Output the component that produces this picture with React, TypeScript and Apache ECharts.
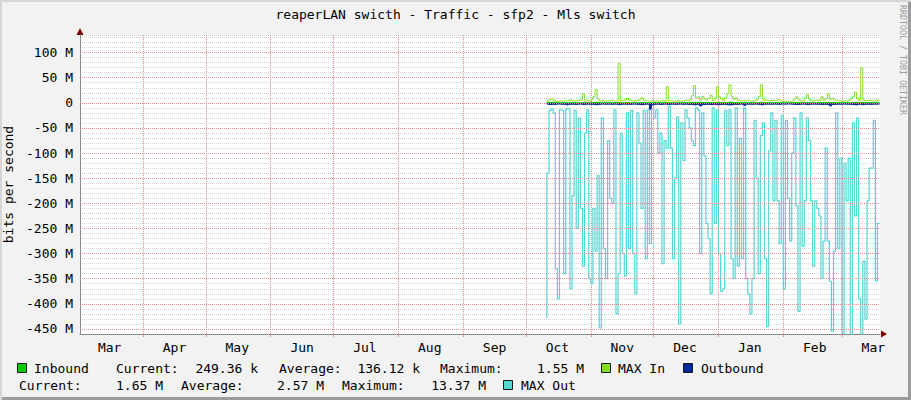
import React, { useEffect, useRef } from 'react';
import * as echarts from 'echarts';

const TITLE = 'reaperLAN swicth - Traffic - sfp2 - Mls switch';
const Y_AXIS_NAME = 'bits per second';
const WATERMARK = 'RRDTOOL / TOBI OETIKER';
const MONTH_NAMES = ['Jan', 'Feb', 'Mar', 'Apr', 'May', 'Jun', 'Jul', 'Aug', 'Sep', 'Oct', 'Nov', 'Dec'];
const MONTH_START_DATES = ['2014-04-01', '2014-05-01', '2014-06-01', '2014-07-01', '2014-08-01', '2014-09-01', '2014-10-01', '2014-11-01', '2014-12-01', '2015-01-01', '2015-02-01', '2015-03-01'];
const MONTH_LABEL_DATES = ['2014-03-16', '2014-04-16', '2014-05-16', '2014-06-16', '2014-07-16', '2014-08-16', '2014-09-16', '2014-10-16', '2014-11-16', '2014-12-16', '2015-01-16', '2015-02-16', '2015-03-16'];
const X_START = '2014-03-01T20:00:00Z';
const X_END = '2015-03-19T05:00:00Z';
const DATA_START = '2014-10-11T00:00:00Z';
const Y_TICKS = [100, 50, 0, -50, -100, -150, -200, -250, -300, -350, -400, -450];
const Y_MIN = -460;
const Y_MAX = 135;

const SERIES_NAMES = ['Inbound', 'MAX In', 'Outbound', 'MAX Out'];
const STAT_LABELS = ['Current:', 'Average:', 'Maximum:'];
const INBOUND_STATS = ['249.36 k', '136.12 k', '1.55 M'];
const OUTBOUND_STATS = ['1.65 M', '2.57 M', '13.37 M'];

// values in M bits per second, one per day
const inbound = [
  0.3, 0.5, 0.8, 1.2, 0.6, 0.2, 0.1, 0.3, 0.2, 0.4,
  0.5, 0.3, 0.6, 0.3, 0.2, 0.4, 0.3, 0.5, 1.5, 0.4,
  0.3, 0.2, 0.5, 0.9, 1.4, 0.6, 0.3, 0.4, 0.2, 0.3,
  0.2, 0.4, 0.3, 0.2, 0.3, 1.5, 0.4, 0.3, 0.5, 0.7,
  0.4, 0.3, 0.2, 0.4, 0.3, 0.5, 0.8, 0.4, 0.3, 0.2,
  0.3, 0.4, 0.2, 0.3, 0.2, 0.3, 0.4, 0.2, 1.3, 0.4,
  0.3, 0.2, 0.3, 0.4, 0.2, 0.3, 0.2, 0.4, 0.3, 0.5,
  0.9, 1.4, 0.7, 0.8, 0.5, 0.9, 0.6, 0.5, 0.7, 1.0,
  0.4, 0.6, 1.3, 0.8, 0.6, 0.4, 0.7, 1.1, 1.5, 0.9,
  0.5, 0.7, 0.4, 0.3, 0.3, 0.2, 0.4, 0.3, 0.2, 0.3,
  0.3, 0.5, 0.8, 1.4, 0.6, 0.4, 0.3, 0.2, 0.4, 0.3,
  0.3, 0.5, 0.4, 0.2, 0.3, 0.2, 0.1, 0.2, 0.3, 0.6,
  0.8, 0.5, 0.3, 0.2, 0.7, 1.1, 0.5, 0.3, 0.2, 0.4,
  0.3, 0.5, 0.9, 0.4, 0.6, 1.2, 0.5, 0.7, 0.5, 0.4,
  0.3, 0.3, 0.2, 0.3, 0.2, 0.4, 0.6, 0.9, 1.3, 0.6,
  0.4, 1.5, 0.5, 0.3, 0.4, 0.5, 0.3, 0.3, 0.2, 0.25,
];

const maxIn = [
  2, 4, 6, 8, 5, 3, 3, 4, 3, 4,
  5, 4, 6, 4, 3, 5, 4, 6, 18, 6,
  4, 3, 6, 12, 26, 8, 4, 5, 3, 4,
  3, 5, 4, 3, 4, 78, 5, 4, 6, 9,
  5, 4, 3, 5, 4, 7, 10, 5, 4, 3,
  4, 5, 3, 4, 3, 4, 5, 3, 32, 5,
  4, 3, 4, 5, 3, 4, 3, 5, 4, 6,
  14, 34, 10, 12, 6, 13, 8, 6, 9, 15,
  5, 8, 32, 12, 8, 5, 10, 18, 36, 13,
  7, 10, 5, 4, 4, 3, 5, 4, 3, 4,
  4, 6, 12, 36, 8, 5, 4, 3, 5, 4,
  4, 6, 5, 3, 4, 3, 2, 3, 4, 8,
  12, 6, 4, 3, 9, 16, 7, 4, 3, 5,
  4, 6, 12, 5, 8, 18, 7, 9, 6, 5,
  4, 4, 3, 4, 3, 5, 8, 12, 21, 8,
  5, 70, 6, 4, 5, 6, 4, 4, 3, 6,
];

const outbound = [
  -2.5, -3, -3.5, -2.8, -3.2, -2.6, -2.4, -3, -2.7, -3.1,
  -4.5, -3, -2.8, -2.6, -3.3, -2.9, -2.5, -3, -3.4, -2.8,
  -2.6, -3, -2.7, -3.5, -4, -3.1, -2.7, -2.5, -3, -2.8,
  -2.6, -3, -2.9, -2.5, -3.2, -3.6, -2.8, -2.6, -3, -2.7,
  -3.1, -2.7, -2.5, -2.9, -3, -3.4, -3.8, -2.9, -2.6, -3,
  -13, -4, -2.8, -2.6, -3, -3.2, -2.7, -2.5, -3.4, -2.8,
  -2.6, -2.9, -3.1, -2.7, -2.5, -3, -2.8, -2.6, -3.2, -3,
  -3.6, -4.2, -3.1, -3.4, -6, -3.5, -3, -2.8, -3.3, -3.7,
  -2.9, -3.2, -4, -3.5, -3.1, -2.8, -3.6, -3.9, -4.3, -3.4,
  -3, -3.2, -2.7, -2.6, -3, -5, -2.8, -2.6, -2.9, -2.7,
  -2.5, -2.8, -3.3, -4.1, -3, -2.7, -2.6, -2.9, -2.7, -2.5,
  -2.6, -3, -2.8, -2.4, -2.7, -2.5, -2.3, -2.6, -2.8, -3.2,
  -3.4, -2.9, -2.6, -2.5, -3.1, -3.6, -3, -2.7, -2.6, -2.9,
  -2.7, -3, -3.5, -2.8, -3.2, -3.8, -6, -3.3, -3, -2.9,
  -2.6, -2.8, -2.5, -2.7, -2.6, -3, -3.3, -3.6, -4.2, -3.1,
  -2.8, -3.9, -3, -2.7, -2.9, -3.1, -2.8, -2.7, -2.6, -2.5,
];

const maxOut = [
  -428, -140, -15, -12, -20, -330, -390, -14, -15, -340,
  -12, -12, -370, -185, -15, -250, -30, -210, -325, -60,
  -14, -350, -360, -210, -295, -145, -448, -30, -290, -350,
  -75, -190, -200, -14, -420, -340, -60, -300, -345, -20,
  -290, -15, -300, -380, -20, -80, -210, -15, -310, -14,
  -280, -12, -30, -14, -100, -60, -320, -75, -90, -7,
  -90, -310, -150, -28, -440, -40, -115, -14, -30, -50,
  -75, -85, -10, -14, -300, -20, -105, -240, -270, -380,
  -10, -240, -15, -300, -375, -370, -15, -85, -14, -310,
  -350, -10, -325, -70, -310, -10, -350, -380, -420, -350,
  -35, -150, -340, -65, -40, -310, -445, -95, -20, -195,
  -35, -195, -280, -25, -370, -35, -190, -275, -100, -30,
  -205, -415, -20, -285, -195, -30, -75, -195, -325, -195,
  -210, -225, -350, -275, -90, -275, -355, -455, -295, -20,
  -290, -110, -460, -120, -195, -110, -465, -40, -225, -30,
  -390, -460, -315, -430, -195, -130, -130, -35, -355, -240,
];

const COLORS = ['#00CC00', '#84DF1E', '#002A97', '#55D6D3'];
const FONT = 'DejaVu Sans Mono';
const DAY = 86400000;

function toSeries(values: number[]) {
  const start = Date.parse(DATA_START);
  return values.map((v, i) => [start + i * DAY, v]);
}

function buildOption() {
  const monthStarts = MONTH_START_DATES.map((d) => Date.parse(d));
  const monthLabels = MONTH_LABEL_DATES.map((d) => Date.parse(d));

  const text = (t: string, x: number, y: number, align: string, extra: any = {}) => ({
    type: 'text',
    x,
    y,
    silent: true,
    style: {
      text: t,
      font: `13px "${FONT}"`,
      fill: '#000',
      align,
      verticalAlign: 'middle',
      textAlign: align,
      textVerticalAlign: 'middle',
      ...extra,
    },
  });
  const box = (x: number, y: number, color: string) => ({
    type: 'rect',
    silent: true,
    shape: { x: x + 0.5, y: y + 0.5, width: 9, height: 9 },
    style: { fill: color, stroke: '#1a1a1a', lineWidth: 1 },
  });

  const row1 = 368;
  const row2 = 385;
  const graphic: any[] = [
    text(TITLE, 455.5, 14, 'center'),
    {
      type: 'text',
      x: 903,
      y: 5,
      rotation: -Math.PI / 2,
      silent: true,
      style: {
        text: WATERMARK,
        font: `8.3px "${FONT}"`,
        fill: '#9c9c9c',
        align: 'left',
        verticalAlign: 'middle',
        textAlign: 'left',
        textVerticalAlign: 'middle',
      },
    },
    { type: 'polygon', silent: true, shape: { points: [[76.5, 35], [83.5, 35], [80, 28]] }, style: { fill: '#7F0000' } },
    { type: 'polygon', silent: true, shape: { points: [[881, 330.5], [881, 337.5], [887, 334]] }, style: { fill: '#7F0000' } },
    box(17, 363, COLORS[0]),
    text(SERIES_NAMES[0], 34, row1, 'left'),
    text(STAT_LABELS[0], 116, row1, 'left'),
    text(INBOUND_STATS[0], 258, row1, 'right'),
    text(STAT_LABELS[1], 279, row1, 'left'),
    text(INBOUND_STATS[1], 420, row1, 'right'),
    text(STAT_LABELS[2], 440, row1, 'left'),
    text(INBOUND_STATS[2], 584, row1, 'right'),
    box(601, 363, COLORS[1]),
    text(SERIES_NAMES[1], 618, row1, 'left'),
    box(683, 363, COLORS[2]),
    text(SERIES_NAMES[2], 701, row1, 'left'),
    text(STAT_LABELS[0], 19, row2, 'left'),
    text(OUTBOUND_STATS[0], 163, row2, 'right'),
    text(STAT_LABELS[1], 181, row2, 'left'),
    text(OUTBOUND_STATS[1], 324, row2, 'right'),
    text(STAT_LABELS[2], 342, row2, 'left'),
    text(OUTBOUND_STATS[2], 486, row2, 'right'),
    box(503, 380, COLORS[3]),
    text(SERIES_NAMES[3], 521, row2, 'left'),
  ];

  const majorGrid = { color: '#e68a8a', type: [1, 1], width: 1 };

  return {
    animation: false,
    backgroundColor: 'transparent',
    textStyle: { fontFamily: FONT },
    grid: {
      left: 80,
      right: 31,
      top: 35,
      bottom: 66,
      show: true,
      backgroundColor: '#ffffff',
      borderWidth: 0,
      containLabel: false,
      outerBoundsMode: 'none',
    },
    xAxis: {
      type: 'value',
      min: Date.parse(X_START),
      max: Date.parse(X_END),
      axisLine: { show: true, onZero: false, lineStyle: { color: '#8a8a8a', width: 1 } },
      axisTick: { show: true, customValues: monthStarts, length: 3, lineStyle: { color: '#e68a8a' } },
      splitLine: { show: true, lineStyle: majorGrid },
      axisLabel: {
        customValues: monthLabels,
        formatter: (v: number) => MONTH_NAMES[new Date(v).getUTCMonth()],
        color: '#000',
        fontFamily: FONT,
        fontSize: 13,
        margin: 7,
        showMinLabel: true,
        showMaxLabel: true,
      },
    },
    yAxis: {
      type: 'value',
      min: Y_MIN,
      max: Y_MAX,
      interval: 10,
      name: Y_AXIS_NAME,
      nameLocation: 'middle',
      nameGap: 59,
      nameRotate: 90,
      nameTextStyle: { fontFamily: FONT, fontSize: 13, color: '#000' },
      axisLine: { show: true, lineStyle: { color: '#8a8a8a', width: 1 } },
      axisTick: { show: false },
      splitLine: { show: true, lineStyle: { color: '#d6d6d6', type: [1, 1], width: 1 } },
      axisLabel: {
        customValues: Y_TICKS,
        formatter: (v: number) => (v === 0 ? '0' : `${v} M`),
        color: '#000',
        fontFamily: FONT,
        fontSize: 13,
        margin: 7,
      },
    },
    series: [
      {
        name: SERIES_NAMES[0],
        type: 'line',
        step: 'start',
        symbol: 'none',
        data: toSeries(inbound),
        color: COLORS[0],
        lineStyle: { width: 1, color: COLORS[0] },
        areaStyle: { color: COLORS[0], opacity: 1 },
        markLine: {
          silent: true,
          symbol: 'none',
          label: { show: false },
          lineStyle: majorGrid,
          data: Y_TICKS.map((v) => ({ yAxis: v })),
        },
      },
      {
        name: SERIES_NAMES[1],
        type: 'line',
        step: 'start',
        symbol: 'none',
        data: toSeries(maxIn),
        color: COLORS[1],
        lineStyle: { width: 1, color: COLORS[1] },
      },
      {
        name: SERIES_NAMES[2],
        type: 'line',
        step: 'start',
        symbol: 'none',
        data: toSeries(outbound),
        color: COLORS[2],
        lineStyle: { width: 1, color: COLORS[2] },
        areaStyle: { color: COLORS[2], opacity: 1 },
      },
      {
        name: SERIES_NAMES[3],
        type: 'line',
        step: 'start',
        symbol: 'none',
        data: toSeries(maxOut),
        color: COLORS[3],
        lineStyle: { width: 1.2, color: COLORS[3] },
      },
    ],
    graphic,
  };
}

export default function App() {
  const ref = useRef<HTMLDivElement>(null);
  useEffect(() => {
    if (!ref.current) return;
    const chart = echarts.init(ref.current, null, { renderer: 'svg' });
    chart.setOption(buildOption() as any);
    return () => chart.dispose();
  }, []);
  return (
    <div
      style={{
        position: 'absolute',
        left: 0,
        top: 0,
        width: 911,
        height: 400,
        background: '#F2F2F2',
        boxShadow: 'inset 2px 2px 0 #D6D6D6, inset -3px -3px 0 #9C9C9C',
      }}
    >
      <div ref={ref} style={{ width: 911, height: 400 }} />
    </div>
  );
}
